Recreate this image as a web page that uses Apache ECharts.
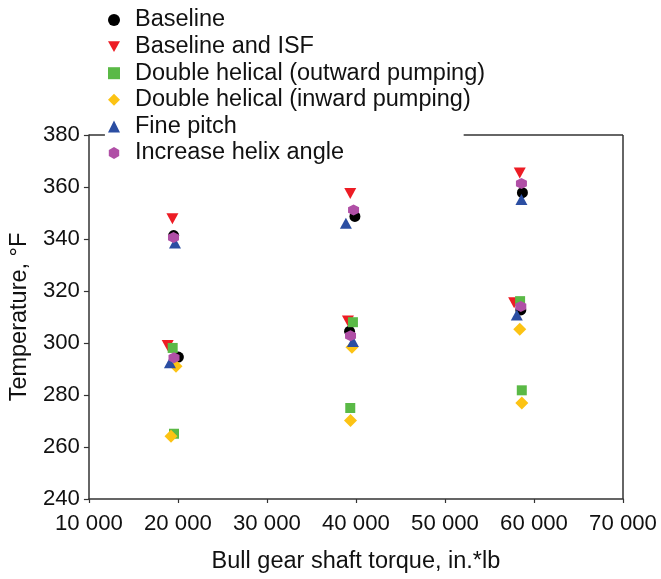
<!DOCTYPE html>
<html><head><meta charset="utf-8">
<script src="https://cdn.jsdelivr.net/npm/echarts@6/dist/echarts.min.js"></script>
<style>html,body{margin:0;padding:0;background:#fff}#c{width:661px;height:579px}</style>
</head><body><div id="c"></div>
<script>
const seriesNames = ["Baseline","Baseline and ISF","Double helical (outward pumping)","Double helical (inward pumping)","Fine pitch","Increase helix angle"];
const baseline = [[19520,341.3],[20050,294.6],[39880,348.7],[39280,304.5],[58700,357.8],[58520,312.7]];
const baselineISF = [[19380,347.8],[18850,299.0],[39360,357.5],[39100,308.5],[58400,365.4],[57770,315.5]];
const outward = [[19410,298.1],[19560,265.1],[39660,308.0],[39360,275.0],[58440,316.1],[58630,281.8]];
const inward = [[19780,291.1],[19220,264.1],[39550,298.4],[39390,270.2],[58400,305.3],[58630,276.9]];
const finePitch = [[19670,338.5],[19100,292.4],[38870,346.1],[39660,300.6],[58590,355.2],[58070,310.8]];
const helixAngle = [[19500,340.6],[19560,294.3],[39730,351.2],[39390,302.8],[58590,361.3],[58520,314.0]];
const xTicks = {min:10000,max:70000,interval:10000};
const yTicks = {min:240,max:380,interval:20};

const colors = ['#000000','#ed1c24','#5ab946','#fcc314','#2b4ea2','#b04fa6'];
const symbols = ['circle','path://M0,0 L10,0 L5,9 Z','rect','diamond','triangle','path://M5,0 L9.33,2.5 L9.33,7.5 L5,10 L0.67,7.5 L0.67,2.5 Z'];
const sizes = [11,[12,11],10,13,[12,11],11];
const datasets = [baseline,baselineISF,outward,inward,finePitch,helixAngle];
const font = 'Liberation Sans, Arial, sans-serif';
const chart = echarts.init(document.getElementById('c'));
const fmt = v => String(v).replace(/\B(?=(\d{3})+(?!\d))/g,' ');
chart.setOption({
  animation:false,
  backgroundColor:'#fff',
  grid:{left:86,right:38,top:135,bottom:76},
  legend:{
    orient:'vertical',left:103,top:8,padding:[0,5,0,5],itemGap:2.6,itemWidth:12,itemHeight:12,
    textStyle:{fontFamily:font,fontSize:23.5,lineHeight:24,color:'#111',padding:[0,0,0,10]},
    data:seriesNames.map((n,i)=>({name:n,icon:symbols[i]}))
  },
  xAxis:{type:'value',min:xTicks.min,max:xTicks.max,interval:xTicks.interval,
    name:'Bull gear shaft torque, in.*lb',nameLocation:'middle',nameGap:51,
    nameTextStyle:{fontFamily:font,fontSize:23.5,color:'#111'},
    axisLine:{lineStyle:{color:'#333',width:1.5}},
    axisTick:{show:true,length:4,lineStyle:{color:'#333',width:1.2}},
    axisLabel:{fontFamily:font,fontSize:22.2,color:'#111',margin:14,formatter:fmt},
    splitLine:{show:false}},
  yAxis:{type:'value',min:yTicks.min,max:yTicks.max,interval:yTicks.interval,
    name:'Temperature, °F',nameLocation:'middle',nameGap:56,
    nameTextStyle:{fontFamily:font,fontSize:23.5,color:'#111'},
    axisLine:{show:true,lineStyle:{color:'#333',width:1.5}},
    axisTick:{show:true,length:5,lineStyle:{color:'#333',width:1.2}},
    axisLabel:{fontFamily:font,fontSize:22.2,color:'#111',margin:9},
    splitLine:{show:false}},
  series:datasets.map((d,i)=>({
    name:seriesNames[i],type:'scatter',data:d,symbol:symbols[i],symbolSize:sizes[i],
    itemStyle:{color:colors[i],opacity:1}
  }))
});
const pLT = chart.convertToPixel({gridIndex:0},[xTicks.min,yTicks.max]);
const pRT = chart.convertToPixel({gridIndex:0},[xTicks.max,yTicks.max]);
const pRB = chart.convertToPixel({gridIndex:0},[xTicks.max,yTicks.min]);
const pTopStart = chart.convertToPixel({gridIndex:0},[52100,yTicks.max]);
chart.setOption({graphic:[
  {type:'line',shape:{x1:pLT[0],y1:pLT[1],x2:pLT[0]+16,y2:pLT[1]},style:{stroke:'#333',lineWidth:1.5},z:0},
  {type:'line',shape:{x1:pTopStart[0],y1:pRT[1],x2:pRT[0],y2:pRT[1]},style:{stroke:'#333',lineWidth:1.5},z:0},
  {type:'line',shape:{x1:pRT[0],y1:pRT[1],x2:pRB[0],y2:pRB[1]},style:{stroke:'#333',lineWidth:1.5},z:0}
]});
</script></body></html>
